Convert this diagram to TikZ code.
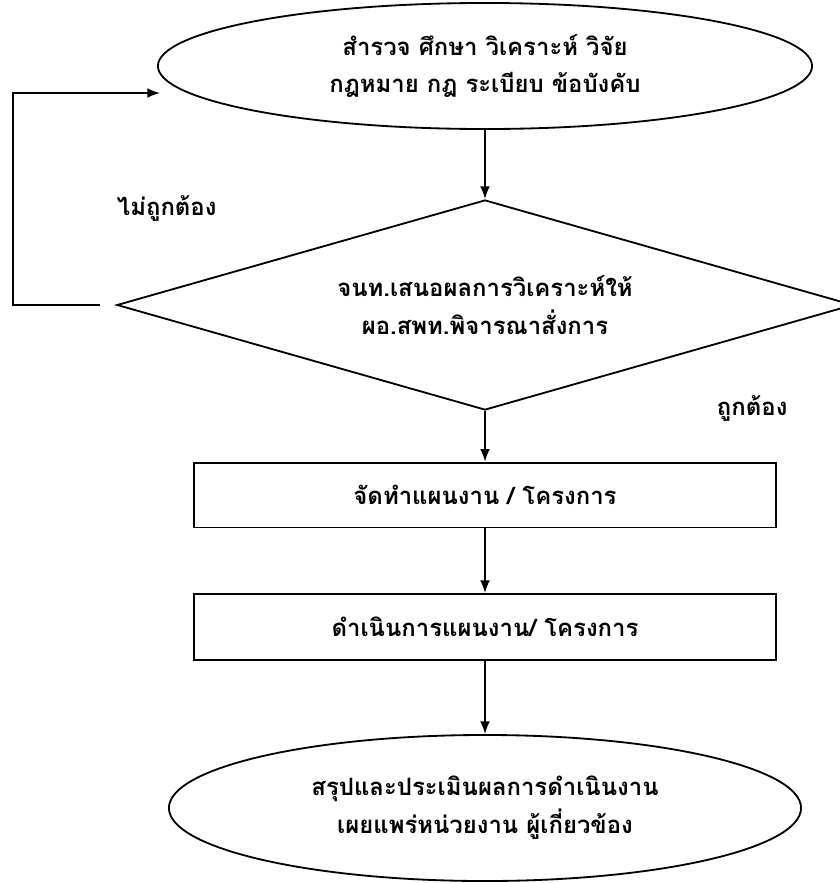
\documentclass[tikz,border=0pt]{standalone}
\usepackage{fontspec}
\newfontfamily\thaifont[Script=Thai]{Loma}
\usepackage{tikz}
\usetikzlibrary{calc}
\usetikzlibrary{shapes.geometric,arrows.meta}

\tikzset{
  flowline/.style={line width=1.3pt,-{Latex[length=9pt,width=7pt]}},
  ovalbox/.style={draw,ellipse,line width=1.3pt,align=center,inner sep=0pt},
  decbox/.style={draw,diamond,line width=1.3pt,align=center,inner sep=0pt,shape aspect=3.5},
  workbox/.style={draw,rectangle,line width=1.3pt,align=center,inner sep=0pt},
  thaitext/.style={font=\thaifont\bfseries\fontsize{17}{27}\selectfont}
}

\begin{document}
\begin{tikzpicture}[x=0.025cm,y=-0.025cm]
    \useasboundingbox (0,0) rectangle (840,883);
    \coordinate (LoopBot) at (100,305);
    \coordinate (LoopBL) at (13,305);
    \coordinate (LoopTL) at (13,93);
    \coordinate (LoopEnd) at (160,93);
    \node[ovalbox,thaitext,minimum width=16.35cm,minimum height=3.15cm] (Survey) at (485,66)
      {สำรวจ ศึกษา วิเคราะห์ วิจัย\\กฎหมาย กฎ ระเบียบ ข้อบังคับ};
    \node[decbox,thaitext,minimum width=18.4cm,minimum height=5.25cm] (Propose) at (485,305)
      {จนท.เสนอผลการวิเคราะห์ให้\\ผอ.สพท.พิจารณาสั่งการ};
    \node[workbox,thaitext,minimum width=14.55cm,minimum height=1.62cm] (Plan) at (485,495)
      {จัดทำแผนงาน / โครงการ};
    \node[workbox,thaitext,minimum width=14.55cm,minimum height=1.65cm] (Run) at (485,627)
      {ดำเนินการแผนงาน/ โครงการ};
    \node[ovalbox,thaitext,minimum width=15.8cm,minimum height=3.65cm] (Report) at (485,808)
      {สรุปและประเมินผลการดำเนินงาน\\เผยแพร่หน่วยงาน ผู้เกี่ยวข้อง};
    \node[thaitext,anchor=west] (NotOk) at (112,208) {ไม่ถูกต้อง};
    \node[thaitext,anchor=west] (Ok) at (712,408) {ถูกต้อง};
    \draw [flowline] (Survey.south)--(Propose.north);
    \draw [flowline] (Propose.south)--(Plan.north);
    \draw [flowline] (Plan.south)--(Run.north);
    \draw [flowline] (Run.south)--(Report.north);
    \draw [flowline] (LoopBot)--(LoopBL)--(LoopTL)--(LoopEnd);
\end{tikzpicture}
\end{document}
